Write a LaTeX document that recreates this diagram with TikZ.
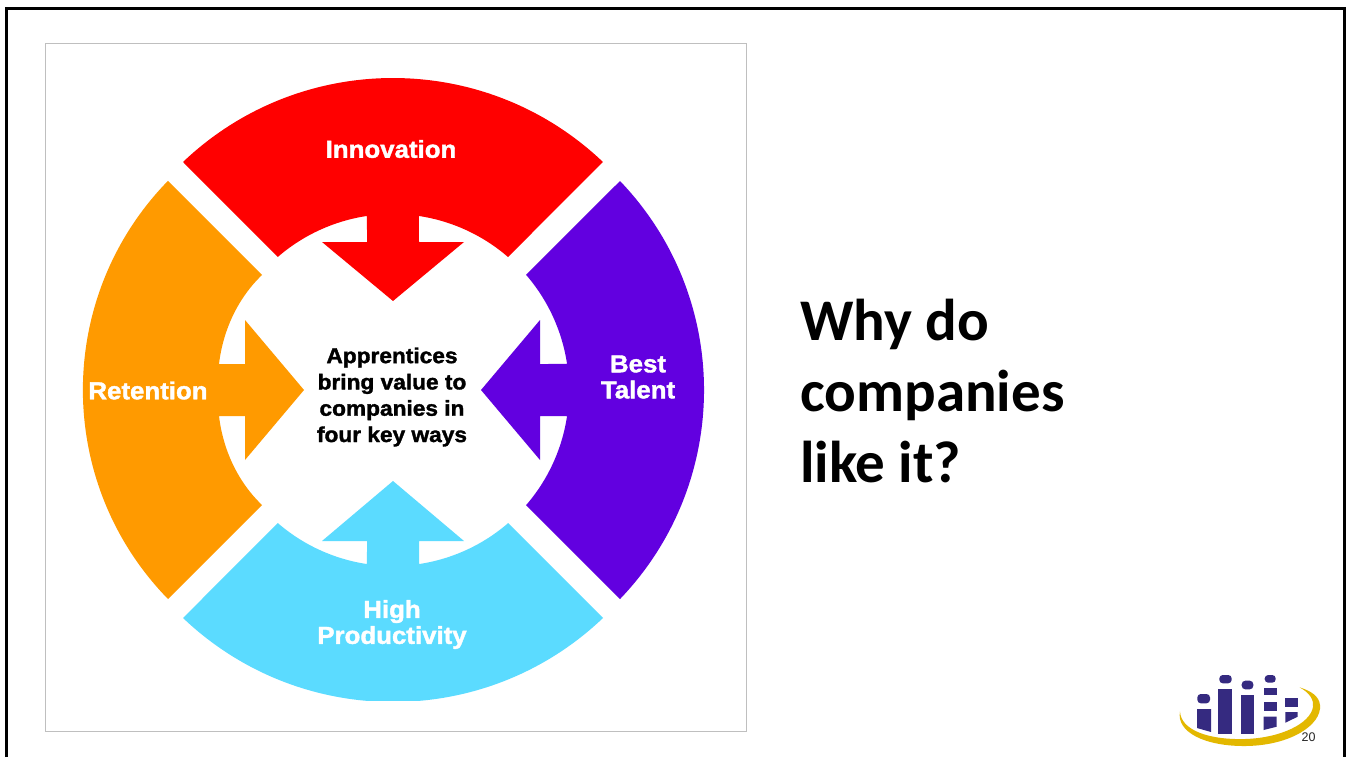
\documentclass[tikz,border=0pt]{standalone}
\usepackage{fontspec}
\setmainfont{Liberation Sans}
\newfontfamily\heavyfont[UprightFont=* Bold,FakeBold=1.6,FakeStretch=1.055]{Liberation Sans}
\newfontfamily\titlefont[UprightFont=* Bold]{Carlito}
\definecolor{cRed}{HTML}{FF0000}
\definecolor{cOrange}{HTML}{FF9A00}
\definecolor{cPurple}{HTML}{6200E0}
\definecolor{cBlue}{HTML}{5BDBFF}
\definecolor{cNavy}{HTML}{352A80}
\definecolor{cGold}{HTML}{E3B800}
\definecolor{cFrame}{HTML}{BFBFBF}
\tikzset{
  px/.style={x=1pt,y=-1pt},
  petal/.style={draw=none},
  wheel/.style={font=\heavyfont\fontsize{24.5}{26}\selectfont,text=white,align=center,inner sep=0pt},
  hub/.style={font=\heavyfont\fontsize{21.5}{26.3}\selectfont,text=black,align=center,inner sep=0pt},
  headline/.style={font=\titlefont\fontsize{59}{70.8}\selectfont,text=black,align=left,inner sep=0pt,anchor=north west},
  logobar/.style={fill=cNavy,draw=none},
  logodot/.style={fill=cNavy,draw=none,rounded corners=3.5pt},
}
\begin{document}
\begin{tikzpicture}[px]
\useasboundingbox (0,0) rectangle (1348,757);
\fill[white] (0,0) rectangle (1348,757);
% slide frame
\draw[black,line width=2.6pt] (6.2,757) -- (6.2,8.5) -- (1344.3,8.5) -- (1344.3,757);
% picture frame
\draw[cFrame,line width=1pt] (45.5,43.5) rectangle (746.5,731.5);
% petals, clipped at the bottom as in the picture
\begin{scope}
\clip (46,44) rectangle (746,700);
\begin{scope}[x=1pt,y=1pt,shift={(393pt,-390pt)}]
% top
\fill[cRed,petal] (-210,228) arc[start angle=133.6,end angle=46.4,radius=304.5pt]
  -- (115,133) arc[start angle=49.1,end angle=81.5,radius=176pt]
  -- (26,148) -- (71,148) -- (0,89) -- (-71,148) -- (-26,148)
  -- (98.5:176) arc[start angle=98.5,end angle=130.9,radius=176pt] -- cycle;
% right
\fill[cPurple,petal] (227,209) arc[start angle=43.8,end angle=-43.8,radius=302pt]
  -- (-40.9:176) arc[start angle=-40.9,end angle=-8.5,radius=176pt]
  -- (147,-26) -- (147,-70) -- (88,0) -- (147,70) -- (147,26)
  -- (8.5:176) arc[start angle=8.5,end angle=40.9,radius=176pt] -- cycle;
% bottom
\fill[cBlue,petal] (210,-228) arc[start angle=-46.4,end angle=-133.6,radius=304.5pt]
  -- (-130.9:176) arc[start angle=-130.9,end angle=-98.5,radius=176pt]
  -- (-26,-151) -- (-71,-151) -- (0,-91) -- (71,-151) -- (26,-151)
  -- (-81.5:176) arc[start angle=-81.5,end angle=-49.1,radius=176pt] -- cycle;
% left
\fill[cOrange,petal] (-225,-209) arc[start angle=-135.7,end angle=-224.3,radius=299.4pt]
  -- (-131,115) .. controls (-155,92) and (-170,60) .. (-174,26)
  -- (-148,26) -- (-148,70) -- (-89,0) -- (-148,-70) -- (-148,-26)
  -- (-174,-26) .. controls (-170,-60) and (-155,-92) .. (-131,-115) -- cycle;
\end{scope}
\end{scope}
% labels
\node[wheel] (innovation) at (391,149) {Innovation};
\node[wheel] (retention) at (148,390.5) {Retention};
\node[wheel] (talent) at (638,377) {Best\\Talent};
\node[wheel] (productivity) at (392,624.5) {High\\Productivity};
\node[hub] (hub) at (392,397) {Apprentices\\bring value to\\companies in\\four key ways};
\node[headline] (why) at (800,299) {Why do\\companies\\like it?};
% logo
\fill[cGold] (1180,711.5) .. controls (1176,732) and (1205,746.5) .. (1246,746)
  .. controls (1290,745.5) and (1322,725) .. (1320,705)
  .. controls (1319,696) and (1311,691) .. (1299.5,687.3)
  .. controls (1310,693) and (1314,700) .. (1313,707)
  .. controls (1310,724) and (1280,738) .. (1245,739)
  .. controls (1208,740) and (1181,730) .. (1180,711.5) -- cycle;
\fill[logobar] (1197,709) -- (1211,709) -- (1211,732) -- (1197,728) -- cycle;
\fill[logobar] (1218.3,689.3) rectangle (1232.3,733.5);
\fill[logobar] (1241,695) rectangle (1254.3,733.5);
\fill[logobar] (1263.7,687.7) rectangle (1276.7,694.7);
\fill[logobar] (1263.7,701.7) rectangle (1276.7,710.7);
\fill[logobar] (1263.7,716.7) -- (1276.7,716.7) -- (1276.7,726.7) -- (1263.7,730) -- cycle;
\fill[logobar] (1285.3,697.7) rectangle (1297.7,706.7);
\fill[logobar] (1285.3,712) -- (1297.7,712) -- (1297.7,716.7) -- (1285.3,722.7) -- cycle;
\fill[logodot] (1197.3,694) rectangle (1210,703.3);
\fill[logodot] (1219.3,675) rectangle (1231.7,683.3);
\fill[logodot] (1241.7,680.7) rectangle (1253.3,689.3);
\fill[logodot] (1264.7,675) rectangle (1275.7,682.7);
\node[font=\fontsize{12.5}{13}\selectfont,text=black!85,inner sep=0pt] (pagenum) at (1308.5,737) {20};
\end{tikzpicture}
\end{document}
